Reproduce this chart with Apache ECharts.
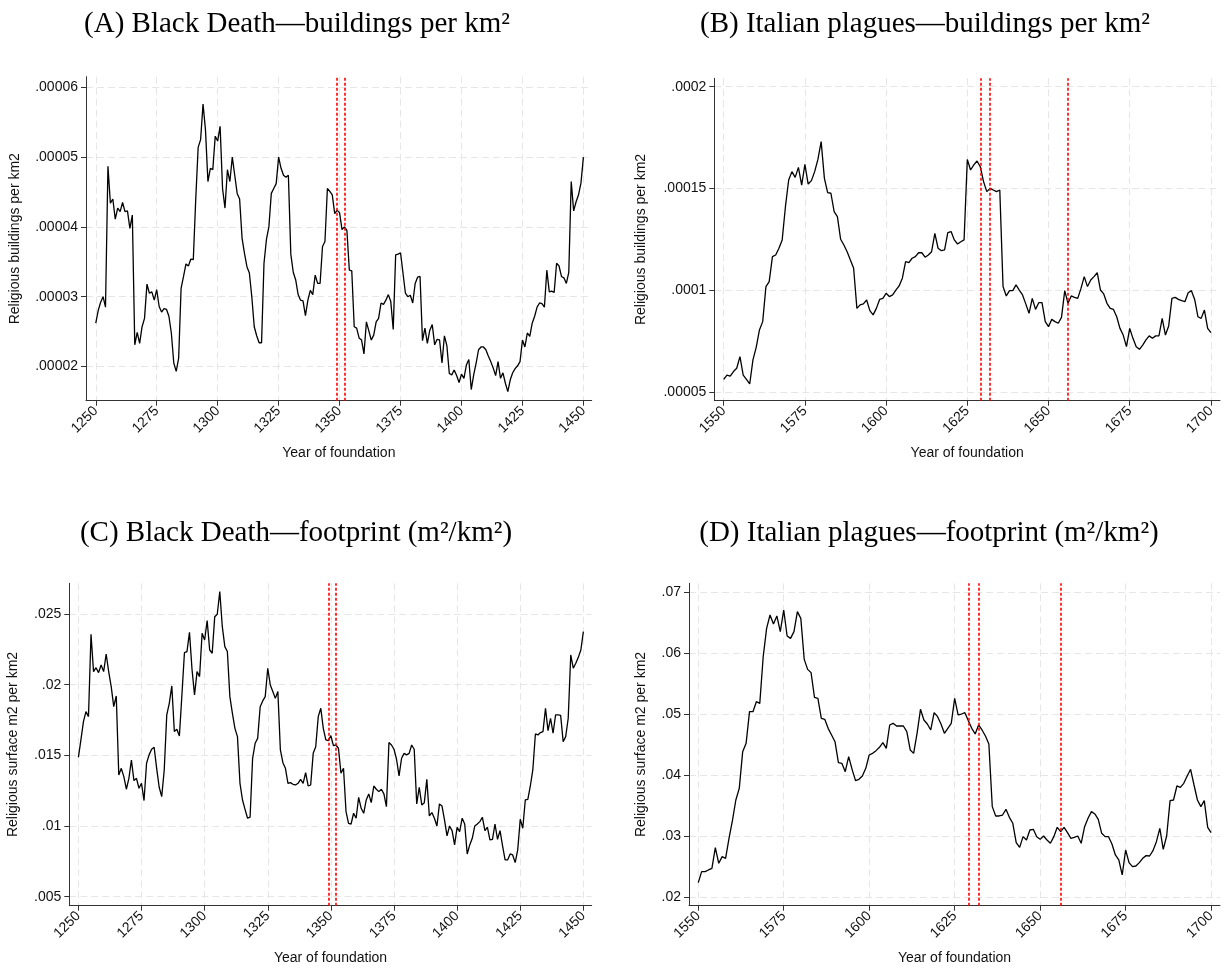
<!DOCTYPE html>
<html>
<head>
<meta charset="utf-8">
<script src="https://cdn.jsdelivr.net/npm/echarts@6/dist/echarts.min.js"></script>
<style>
  html, body { margin: 0; padding: 0; background: #fff; }
  #chart { width: 1225px; height: 970px; }
</style>
</head>
<body>
<div id="chart"></div>
<script>
// ---- Data ---------------------------------------------------------------
// Annual series; the first value belongs to the start year.
const blackDeathStart = 1250;
const italianStart = 1550;

// Religious buildings per km2, in units of 1e-5
const BUILDING_UNIT = 1e-5;
// Religious surface (m2 per km2), in units of 1e-3
const FOOTPRINT_UNIT = 1e-3;

const bdBuildings = [
  2.62, 2.80, 2.92, 3.00, 2.85, 4.87, 4.34, 4.40, 4.11, 4.27,
  4.22, 4.35, 4.22, 4.23, 3.98, 4.17, 2.31, 2.49, 2.33, 2.57,
  2.69, 3.18, 3.05, 3.07, 2.95, 3.10, 2.86, 2.78, 2.83, 2.82,
  2.72, 2.48, 2.05, 1.93, 2.12, 3.12, 3.29, 3.47, 3.44, 3.54,
  3.53, 4.39, 5.14, 5.25, 5.76, 5.39, 4.65, 4.84, 4.82, 5.30,
  5.23, 5.44, 4.55, 4.27, 4.82, 4.65, 5.00, 4.74, 4.48, 4.40,
  3.84, 3.62, 3.43, 3.34, 3.00, 2.57, 2.44, 2.34, 2.34, 3.48,
  3.82, 4.00, 4.48, 4.55, 4.62, 5.00, 4.84, 4.74, 4.71, 4.74,
  3.61, 3.35, 3.24, 3.03, 2.95, 2.94, 2.73, 2.95, 3.09, 3.03,
  3.31, 3.19, 3.19, 3.72, 3.79, 4.55, 4.51, 4.46, 4.19, 4.24,
  4.20, 3.96, 4.00, 3.95, 3.38, 3.37, 2.57, 2.55, 2.41, 2.38,
  2.18, 2.64, 2.51, 2.38, 2.45, 2.64, 2.69, 2.91, 2.89, 2.95,
  3.03, 2.93, 2.53, 3.60, 3.61, 3.63, 3.34, 3.05, 3.00, 3.02,
  2.91, 3.19, 3.28, 3.29, 2.37, 2.55, 2.33, 2.52, 2.60, 2.31,
  2.39, 2.38, 2.05, 2.44, 2.30, 1.90, 1.88, 1.95, 1.87, 1.77,
  1.89, 1.83, 2.02, 2.10, 1.67, 1.88, 2.05, 2.24, 2.28, 2.28,
  2.24, 2.15, 2.07, 1.98, 1.87, 2.07, 1.83, 1.91, 1.76, 1.64,
  1.81, 1.91, 1.97, 2.01, 2.07, 2.38, 2.28, 2.48, 2.43, 2.62,
  2.72, 2.85, 2.91, 2.90, 2.85, 3.38, 3.07, 3.08, 3.06, 3.48,
  3.44, 3.29, 3.27, 3.19, 3.35, 4.65, 4.23, 4.36, 4.46, 4.63,
  5.00
];

const itBuildings = [
  5.64, 5.85, 5.80, 6.02, 6.18, 6.75, 5.85, 5.64, 5.41, 6.59,
  7.21, 8.06, 8.47, 10.19, 10.43, 11.66, 11.74, 12.07, 12.48, 14.11,
  15.42, 15.83, 15.55, 16.04, 15.17, 16.19, 15.22, 15.39, 15.83, 16.43,
  17.30, 15.50, 14.80, 14.77, 13.87, 13.62, 12.51, 12.23, 11.90, 11.49,
  11.09, 9.12, 9.29, 9.34, 9.53, 9.01, 8.80, 9.12, 9.56, 9.61,
  9.86, 9.70, 9.78, 10.02, 10.22, 10.60, 11.41, 11.36, 11.58, 11.66,
  11.85, 11.85, 11.63, 11.74, 11.90, 12.80, 12.07, 11.95, 11.99, 12.84,
  12.89, 12.48, 12.28, 12.39, 12.48, 16.43, 15.91, 16.16, 16.35, 16.07,
  15.34, 14.85, 15.01, 14.93, 14.85, 14.93, 10.19, 9.73, 9.99, 9.99,
  10.27, 10.02, 9.78, 9.34, 8.88, 9.61, 9.07, 9.40, 9.40, 8.47,
  8.22, 8.58, 8.47, 8.39, 8.68, 9.99, 9.37, 9.73, 9.66, 9.61,
  10.10, 10.68, 10.19, 10.51, 10.68, 10.87, 10.02, 9.83, 9.37, 9.12,
  9.07, 8.71, 8.14, 7.81, 7.24, 8.14, 7.65, 7.24, 7.11, 7.32,
  7.57, 7.77, 7.65, 7.77, 7.77, 8.63, 7.81, 8.26, 9.61, 9.66,
  9.56, 9.50, 9.45, 9.89, 9.99, 9.56, 8.71, 8.63, 9.04, 8.14,
  7.93
];

const bdFootprint = [
  14.86, 16.09, 17.38, 18.09, 17.74, 23.56, 20.92, 21.20, 20.85, 21.39,
  20.92, 22.17, 20.92, 19.86, 18.44, 19.20, 13.61, 14.08, 13.49, 12.60,
  13.37, 14.67, 13.21, 13.37, 12.67, 13.02, 11.80, 14.44, 15.03, 15.43,
  15.57, 14.08, 12.74, 12.08, 13.96, 17.86, 18.68, 19.91, 16.68, 16.84,
  16.37, 19.27, 22.26, 22.34, 23.70, 21.09, 19.27, 20.92, 20.57, 23.63,
  23.16, 24.53, 22.45, 22.22, 24.81, 24.98, 26.58, 24.10, 22.69, 22.34,
  19.15, 17.97, 16.91, 16.32, 13.02, 11.84, 11.18, 10.55, 10.62, 14.79,
  15.85, 16.20, 18.44, 18.85, 19.15, 21.16, 19.98, 19.51, 19.03, 19.51,
  15.38, 14.48, 14.08, 13.02, 13.07, 12.95, 12.90, 13.02, 13.30, 13.02,
  13.78, 12.83, 12.90, 15.14, 15.61, 17.74, 18.33, 16.91, 16.09, 16.04,
  16.39, 15.69, 15.73, 15.50, 13.73, 14.08, 11.02, 10.19, 10.14, 10.90,
  10.55, 12.03, 11.25, 10.90, 11.84, 12.27, 11.65, 12.83, 12.60, 12.43,
  12.60, 12.27, 11.37, 15.90, 15.73, 15.43, 14.72, 13.54, 14.79, 15.14,
  15.03, 15.14, 15.73, 15.43, 11.56, 12.74, 11.49, 11.65, 13.30, 10.71,
  10.95, 10.55, 10.00, 11.56, 11.42, 10.43, 9.30, 10.00, 9.67, 8.66,
  9.91, 9.60, 10.55, 10.14, 8.02, 8.66, 9.13, 10.00, 10.14, 10.31,
  10.62, 9.67, 9.91, 9.01, 9.06, 10.14, 9.06, 9.67, 8.59, 7.60,
  7.60, 8.02, 7.95, 7.41, 8.31, 10.48, 9.84, 11.84, 11.89, 12.83,
  14.01, 16.51, 16.44, 16.61, 16.68, 18.33, 16.75, 17.62, 16.56, 17.86,
  17.86, 17.83, 15.97, 16.32, 17.62, 22.10, 21.16, 21.51, 21.93, 22.45,
  23.75
];

const itFootprint = [
  22.35, 24.15, 24.15, 24.43, 24.70, 28.09, 25.52, 26.61, 26.34, 29.62,
  32.51, 35.90, 37.81, 43.83, 45.19, 50.38, 50.38, 52.02, 51.75, 59.40,
  64.04, 66.23, 64.75, 66.07, 63.50, 67.05, 62.79, 62.40, 63.50, 66.78,
  65.68, 58.96, 57.32, 56.78, 52.73, 52.57, 49.29, 49.13, 47.65, 46.56,
  45.46, 42.02, 41.91, 40.55, 43.01, 40.93, 39.07, 39.29, 39.84, 41.09,
  43.28, 43.55, 43.99, 44.54, 45.30, 44.37, 48.20, 48.47, 48.03, 48.03,
  48.03, 47.10, 44.10, 43.55, 46.83, 50.77, 49.02, 48.36, 47.38, 50.22,
  49.56, 48.36, 46.83, 47.65, 48.47, 52.57, 49.84, 50.00, 50.22, 48.91,
  47.65, 46.72, 48.20, 47.38, 46.39, 45.08, 34.81, 33.28, 33.28, 33.44,
  34.37, 33.06, 32.08, 28.91, 28.14, 29.89, 29.34, 30.98, 31.09, 29.89,
  29.45, 30.00, 29.34, 28.80, 29.89, 31.42, 30.71, 31.42, 30.55, 29.62,
  29.78, 30.00, 28.80, 31.53, 32.90, 33.99, 33.61, 32.73, 30.44, 29.89,
  29.89, 28.69, 26.89, 26.07, 23.61, 27.70, 25.63, 24.97, 25.08, 25.63,
  26.34, 26.78, 26.72, 27.60, 29.07, 31.26, 27.81, 30.00, 35.79, 35.90,
  38.20, 37.98, 38.63, 39.84, 40.93, 38.36, 35.90, 34.81, 35.79, 31.42,
  30.55
];

// Plague outbreaks marked with vertical lines
const blackDeathWaves = [1349, 1352];
const italianPlagueWaves = [1629, 1632, 1656];

// Axis ticks
const blackDeathYearTicks = [1250, 1275, 1300, 1325, 1350, 1375, 1400, 1425, 1450];
const italianYearTicks = [1550, 1575, 1600, 1625, 1650, 1675, 1700];
const bdBuildingTicks = [0.00002, 0.00003, 0.00004, 0.00005, 0.00006];
const itBuildingTicks = [0.00005, 0.0001, 0.00015, 0.0002];
const bdFootprintTicks = [0.005, 0.01, 0.015, 0.02, 0.025];
const itFootprintTicks = [0.02, 0.03, 0.04, 0.05, 0.06, 0.07];

// Texts
const panelTitles = [
  '(A) Black Death\u2014buildings per km\u00B2',
  '(B) Italian plagues\u2014buildings per km\u00B2',
  '(C) Black Death\u2014footprint (m\u00B2/km\u00B2)',
  '(D) Italian plagues\u2014footprint (m\u00B2/km\u00B2)'
];
const buildingsAxisName = 'Religious buildings per km2';
const footprintAxisName = 'Religious surface m2 per km2';
const yearAxisName = 'Year of foundation';

// ---- Layout -------------------------------------------------------------
const SANS = '"Liberation Sans", Arial, Helvetica, sans-serif';
const SERIF = '"Liberation Serif", "Times New Roman", serif';
const AXIS_COLOR = '#333';
const GRID_COLOR = '#e6e6e6';

const panels = [
  {
    title: panelTitles[0], titleX: 297, titleY: 24,
    grid: { left: 86, top: 76.7, width: 505.7, height: 324 },
    xRange: [1246, 1453.4], xTicks: blackDeathYearTicks,
    yRange: [1.51e-5, 6.152e-5], yTicks: bdBuildingTicks,
    yName: buildingsAxisName, yNameGap: 64,
    start: blackDeathStart, values: bdBuildings, unit: BUILDING_UNIT,
    waves: blackDeathWaves
  },
  {
    title: panelTitles[1], titleX: 925, titleY: 24,
    grid: { left: 714.3, top: 78.3, width: 505.7, height: 322.4 },
    xRange: [1547.1, 1702.8], xTicks: italianYearTicks,
    yRange: [4.59e-5, 2.041e-4], yTicks: itBuildingTicks,
    yName: buildingsAxisName, yNameGap: 66,
    start: italianStart, values: itBuildings, unit: BUILDING_UNIT,
    waves: italianPlagueWaves
  },
  {
    title: panelTitles[2], titleX: 296, titleY: 533,
    grid: { left: 69.3, top: 583.3, width: 522.4, height: 322.4 },
    xRange: [1246.4, 1453.3], xTicks: blackDeathYearTicks,
    yRange: [0.00436, 0.02717], yTicks: bdFootprintTicks,
    yName: footprintAxisName, yNameGap: 49,
    start: blackDeathStart, values: bdFootprint, unit: FOOTPRINT_UNIT,
    waves: blackDeathWaves
  },
  {
    title: panelTitles[3], titleX: 929, titleY: 533,
    grid: { left: 689, top: 583.3, width: 531, height: 322.4 },
    xRange: [1547.3, 1702.6], xTicks: italianYearTicks,
    yRange: [0.01857, 0.07143], yTicks: itFootprintTicks,
    yName: footprintAxisName, yNameGap: 41,
    start: italianStart, values: itFootprint, unit: FOOTPRINT_UNIT,
    waves: italianPlagueWaves
  }
];

// Stata-style decimals: drop the leading zero (".00005")
function decimalLabel(v) {
  return String(v).replace(/^0\./, '.');
}

const tickLabelStyle = { fontFamily: SANS, fontSize: 14, color: '#111' };
const axisNameStyle = { fontFamily: SANS, fontSize: 14, color: '#111' };
const dashedGrid = { show: true, lineStyle: { color: GRID_COLOR, type: [7, 4], width: 1 } };

const option = {
  animation: false,
  backgroundColor: '#fff',
  grid: panels.map(p => Object.assign({ containLabel: false }, p.grid)),
  xAxis: panels.map((p, i) => ({
    type: 'value',
    gridIndex: i,
    min: p.xRange[0],
    max: p.xRange[1],
    name: yearAxisName,
    nameLocation: 'middle',
    nameGap: 45,
    nameTextStyle: axisNameStyle,
    axisLine: { show: true, onZero: false, lineStyle: { color: AXIS_COLOR, width: 1 } },
    axisTick: { show: true, length: 5, customValues: p.xTicks, lineStyle: { color: AXIS_COLOR } },
    axisLabel: Object.assign({ customValues: p.xTicks, rotate: 45, margin: 8,
      formatter: v => String(v) }, tickLabelStyle),
    splitLine: dashedGrid
  })),
  yAxis: panels.map((p, i) => ({
    type: 'value',
    gridIndex: i,
    min: p.yRange[0],
    max: p.yRange[1],
    name: p.yName,
    nameLocation: 'middle',
    nameGap: p.yNameGap,
    nameRotate: 90,
    nameTextStyle: axisNameStyle,
    axisLine: { show: true, onZero: false, lineStyle: { color: AXIS_COLOR, width: 1 } },
    axisTick: { show: true, length: 5, customValues: p.yTicks, lineStyle: { color: AXIS_COLOR } },
    axisLabel: Object.assign({ customValues: p.yTicks, margin: 8, formatter: decimalLabel }, tickLabelStyle),
    splitLine: dashedGrid
  })),
  series: panels.map((p, i) => ({
    type: 'line',
    xAxisIndex: i,
    yAxisIndex: i,
    showSymbol: false,
    symbol: 'none',
    silent: true,
    lineStyle: { color: '#000', width: 1.3 },
    data: p.values.map((v, k) => [p.start + k, v * p.unit]),
    markLine: {
      silent: true,
      symbol: ['none', 'none'],
      label: { show: false },
      lineStyle: { color: '#ff0000', type: [3, 2], width: 1.6 },
      emphasis: { disabled: true },
      data: p.waves.map(year => ({ xAxis: year }))
    }
  })),
  graphic: panels.map(p => ({
    type: 'text',
    x: p.titleX,
    y: p.titleY,
    silent: true,
    style: {
      text: p.title,
      fill: '#000',
      font: '29px ' + SERIF,
      align: 'center',
      verticalAlign: 'middle'
    }
  }))
};

const chart = echarts.init(document.getElementById('chart'), null, { renderer: 'canvas' });
chart.setOption(option);
</script>
</body>
</html>
